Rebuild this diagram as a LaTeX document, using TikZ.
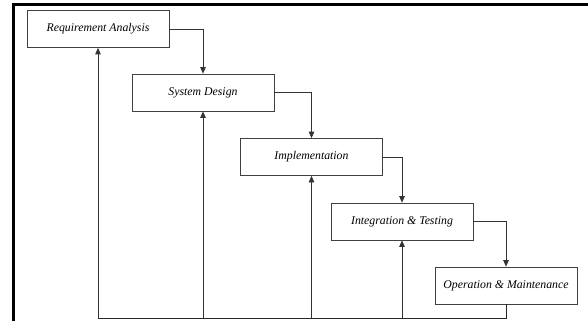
\documentclass[tikz,border=0pt]{standalone}
\usepackage{fontspec}
\setmainfont{Liberation Serif}
\usetikzlibrary{arrows.meta}
\begin{document}
\begin{tikzpicture}[x=1pt,y=-1pt,
  phase/.style={draw=black!75,line width=0.7pt,minimum width=142pt,minimum height=37pt,inner sep=0pt,font=\fontsize{11.8}{14}\selectfont\itshape},
  flow/.style={draw=black!80,line width=0.7pt,-{Triangle[length=6.5pt,width=5.5pt]}},
  ret/.style={draw=black!85,line width=0.7pt},
  frameline/.style={draw=black,line width=2.5pt}]
\useasboundingbox (0,0) rectangle (588,321);
\draw[frameline] (13.5,321) -- (13.5,4.5) -- (588,4.5);
\node[phase] (ra) at (98,29) {Requirement Analysis};
\node[phase] (sd) at (203,92.5) {System Design};
\node[phase] (im) at (311.5,157) {Implementation};
\node[phase] (it) at (402,221.5) {Integration \& Testing};
\node[phase] (om) at (506,285.5) {Operation \& Maintenance};
\draw[flow] (ra.east) -| (sd.north);
\draw[flow] (sd.east) -| (im.north);
\draw[flow] (im.east) -| (it.north);
\draw[flow] (it.east) -| (om.north);
\coordinate (b5) at (om.south |- 0,318);
\coordinate (b1) at (ra.south |- 0,318);
\draw[ret] (om.south) -- (b5) -- (b1);
\draw[flow] (b1) -- (ra.south);
\draw[flow] (sd.south |- b1) -- (sd.south);
\draw[flow] (im.south |- b1) -- (im.south);
\draw[flow] (it.south |- b1) -- (it.south);
\end{tikzpicture}
\end{document}
